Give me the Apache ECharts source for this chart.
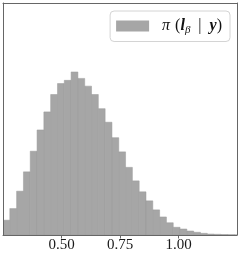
<!DOCTYPE html>
<html>
<head>
<meta charset="utf-8">
<script src="https://cdn.jsdelivr.net/npm/echarts@6/dist/echarts.min.js"></script>
<style>
html,body{margin:0;padding:0;background:#fff;}
#c{width:241px;height:257px;}
</style>
</head>
<body>
<div id="c"></div>
<script>
// Histogram of posterior samples pi(l_beta | y)
const binStart = 0.25;
const binWidth = 0.0291;
const densities = [0.23, 0.41, 0.68, 0.98, 1.30, 1.63, 1.91, 2.18, 2.35, 2.40,
  2.53, 2.43, 2.31, 2.18, 1.96, 1.75, 1.51, 1.29, 1.05, 0.84,
  0.67, 0.53, 0.39, 0.28, 0.19, 0.12, 0.093, 0.062, 0.042, 0.026,
  0.015, 0.011, 0.008, 0.005, 0.003];
const xTicks = [0.5, 0.75, 1.0];
const xMin = 0.25, xMax = 1.25;
const yMax = 3.6;
const seriesName = 'posterior';

const data = densities.map((d, i) => [binStart + i * binWidth, binStart + (i + 1) * binWidth, d]);

const chart = echarts.init(document.getElementById('c'), null, {renderer: 'canvas'});
const frame = {show: true, onZero: false, lineStyle: {color: '#666', width: 1}};
const serif = '"Liberation Serif", "DejaVu Serif", serif';

chart.setOption({
  animation: false,
  backgroundColor: '#fff',
  grid: {left: 3, top: 3, right: 4, bottom: 22, containLabel: false},
  legend: {
    right: 11, top: 11,
    padding: [7, 8, 6, 6],
    backgroundColor: '#fff',
    borderColor: '#d4d4d4',
    borderWidth: 1,
    borderRadius: 4,
    itemWidth: 33, itemHeight: 11,
    icon: 'rect',
    itemStyle: {color: '#a6a6a6', borderWidth: 0},
    data: [seriesName],
    formatter: function () {
      return '{a|π}{p|(}{c|l}{s|β}{v|  |  }{c|y}{b|)}';
    },
    textStyle: {
      fontFamily: serif, fontSize: 16, color: '#111',
      rich: {
        a: {fontFamily: serif, fontStyle: 'italic', fontSize: 16, lineHeight: 19, padding: [0, 0, 0, 8], color: '#111'},
        p: {fontFamily: serif, fontSize: 16, lineHeight: 19, padding: [0, 0, 0, 5], color: '#111'},
        b: {fontFamily: serif, fontSize: 16, lineHeight: 19, color: '#111'},
        v: {fontFamily: serif, fontSize: 16, lineHeight: 19, color: '#111'},
        c: {fontFamily: serif, fontStyle: 'italic', fontWeight: 'bold', fontSize: 16, lineHeight: 19, color: '#111'},
        s: {fontFamily: serif, fontStyle: 'italic', fontSize: 11, lineHeight: 11, verticalAlign: 'bottom', color: '#111'}
      }
    }
  },
  xAxis: [{
    type: 'value', position: 'bottom', min: xMin, max: xMax, z: 10,
    axisLine: frame,
    axisTick: {show: true, inside: false, length: 3.5, customValues: xTicks, lineStyle: {color: '#666', width: 1}},
    axisLabel: {show: true, customValues: xTicks, margin: 3, fontFamily: serif, fontSize: 15, color: '#1a1a1a',
      formatter: v => v.toFixed(2)},
    splitLine: {show: false}
  }, {
    type: 'value', position: 'top', min: xMin, max: xMax, z: 10,
    axisLine: frame, axisTick: {show: false}, axisLabel: {show: false}, splitLine: {show: false}
  }],
  yAxis: [{
    type: 'value', position: 'left', min: 0, max: yMax, z: 10,
    axisLine: frame, axisTick: {show: false}, axisLabel: {show: false}, splitLine: {show: false}
  }, {
    type: 'value', position: 'right', min: 0, max: yMax, z: 10,
    axisLine: frame, axisTick: {show: false}, axisLabel: {show: false}, splitLine: {show: false}
  }],
  series: [{
    name: seriesName,
    type: 'custom',
    xAxisIndex: 0, yAxisIndex: 0,
    z: 2,
    clip: true,
    itemStyle: {color: '#a6a6a6', borderWidth: 0},
    encode: {x: [0, 1], y: 2},
    data: data,
    renderItem: function (params, api) {
      const p0 = api.coord([api.value(0), api.value(2)]);
      const p1 = api.coord([api.value(1), 0]);
      const shape = echarts.graphic.clipRectByRect(
        {x: p0[0], y: p0[1], width: p1[0] - p0[0], height: p1[1] - p0[1]},
        {x: params.coordSys.x, y: params.coordSys.y, width: params.coordSys.width, height: params.coordSys.height}
      );
      if (!shape) return null;
      return {
        type: 'rect',
        shape: shape,
        style: {fill: '#a6a6a6', stroke: '#9a9a9a', lineWidth: 0.5}
      };
    }
  }]
});
</script>
</body>
</html>
